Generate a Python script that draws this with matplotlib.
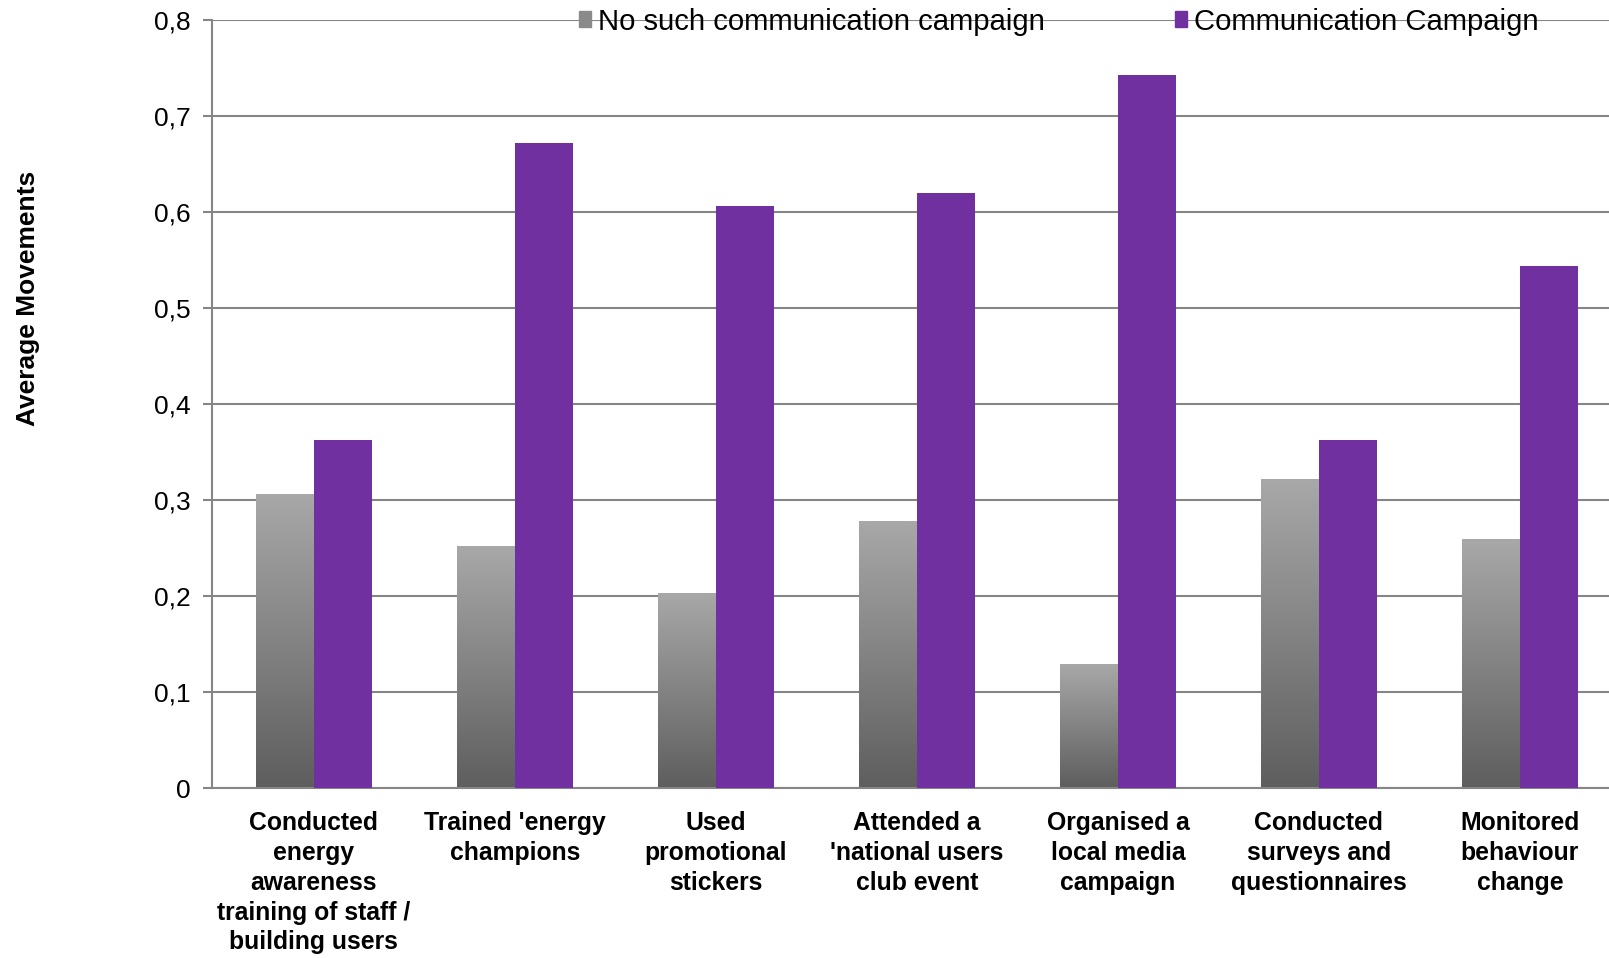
# plot.py - average movements with / without communication campaign
import numpy as np
import matplotlib
matplotlib.use('Agg')
import matplotlib.pyplot as plt
from matplotlib.colors import LinearSegmentedColormap
from matplotlib.patches import Patch

# ------------- Datos -------------
categories = [
    "Conducted\nenergy\nawareness\ntraining of staff /\nbuilding users",
    "Trained 'energy\nchampions",
    "Used\npromotional\nstickers",
    "Attended a\n'national users\nclub event",
    "Organised a\nlocal media\ncampaign",
    "Conducted\nsurveys and\nquestionnaires",
    "Monitored\nbehaviour\nchange",
]
no_campaign = [0.306, 0.252, 0.203, 0.278, 0.129, 0.321, 0.259]
campaign = [0.363, 0.672, 0.606, 0.620, 0.743, 0.362, 0.544]
series_labels = ["No such communication campaign", "Communication Campaign"]
yticks = [0, 0.1, 0.2, 0.3, 0.4, 0.5, 0.6, 0.7, 0.8]
ytick_labels = ["0", "0,1", "0,2", "0,3", "0,4", "0,5", "0,6", "0,7", "0,8"]

# ------------- Estilo -------------
plt.rcParams['font.family'] = ['Liberation Sans', 'DejaVu Sans']
GRID = "#868686"
PURPLE = "#7030a0"
gray_cmap = LinearSegmentedColormap.from_list("grays", ["#5e5e5e", "#a8a8a8"])

W, H = 1609, 958
fig = plt.figure(figsize=(W / 100, H / 100), dpi=100)
ax = fig.add_axes([212 / W, 170 / H, (W - 212) / W, 768 / H])

x = np.arange(len(categories))
bw = 0.289

# barras grises (con degradado) y moradas
gray_bars = ax.bar(x - bw / 2, no_campaign, bw, color="none", zorder=2)
ax.bar(x + bw / 2, campaign, bw, color=PURPLE, zorder=3)
grad = np.linspace(0, 1, 256).reshape(-1, 1)
for b in gray_bars:
    x0, y0 = b.get_x(), b.get_y()
    ax.imshow(grad, cmap=gray_cmap, origin="lower", aspect="auto", zorder=2,
              extent=(x0, x0 + b.get_width(), y0, y0 + b.get_height()))

ax.set_xlim(-0.507, (W - 212) / 201 - 0.507)
ax.set_ylim(0, 0.8)

# ejes y rejilla
ax.set_yticks(yticks)
ax.set_yticklabels(ytick_labels, fontsize=19)
ax.set_xticks(x)
ax.set_xticklabels(categories, fontsize=17.8, fontweight="bold", linespacing=1.31)
ax.tick_params(axis="y", length=6.5, width=1.5, color=GRID, pad=9)
ax.tick_params(axis="x", length=0, pad=16.5)
ax.yaxis.grid(True, color=GRID, linewidth=1.5, zorder=0)
ax.set_axisbelow(True)
for s in ["top", "right"]:
    ax.spines[s].set_visible(False)
for s in ["left", "bottom"]:
    ax.spines[s].set_color(GRID)
    ax.spines[s].set_linewidth(1.5)

fig.text(28 / W, 1 - 298 / H, "Average Movements", rotation=90, fontsize=19,
         fontweight="bold", ha="center", va="center")

# leyenda
handles = [Patch(color="#8a8a8a"), Patch(color=PURPLE)]
ax.legend(handles, series_labels, ncol=2, frameon=False, fontsize=21.1,
          loc="center left", bbox_to_anchor=(579 / W, 1 - 21.5 / H),
          bbox_transform=fig.transFigure, borderpad=0, borderaxespad=0,
          handlelength=0.42, handleheight=0.42, handletextpad=0.22,
          columnspacing=4.45)

fig.savefig("out.png", dpi=100)
